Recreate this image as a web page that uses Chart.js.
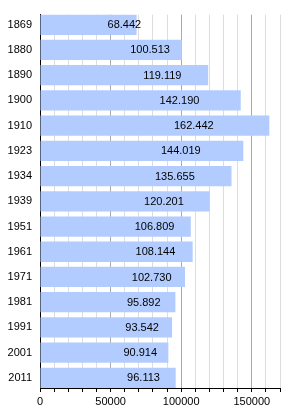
<!DOCTYPE html>
<html><head><meta charset="utf-8">
<script src="https://cdn.jsdelivr.net/npm/chart.js@4/dist/chart.umd.min.js"></script>
<style>html,body{margin:0;padding:0;background:#fff}#w{width:300px;height:413px;position:relative}</style>
</head><body><div id="w"><canvas id="c"></canvas></div>
<script>
const years = ['1869','1880','1890','1900','1910','1923','1934','1939','1951','1961','1971','1981','1991','2001','2011'];
const population = [68442,100513,119119,142190,162442,144019,135655,120201,106809,108144,102730,95892,93542,90914,96113];
const xMax = 170000;
const xStep = 10000;
const xLabelStep = 50000;

function fmt(v){return String(v).replace(/\B(?=(\d{3})+(?!\d))/g,'.');}

const barRatio = 0.804;

const labelPlugin = {
  id:'vals',
  afterDatasetsDraw(chart){
    const ctx = chart.ctx;
    const meta = chart.getDatasetMeta(0);
    ctx.save();
    ctx.font = '11px "Liberation Sans", Arial, sans-serif';
    ctx.fillStyle = '#000';
    ctx.textAlign = 'left';
    ctx.textBaseline = 'middle';
    meta.data.forEach((el,i)=>{
      const mid = (el.base + el.x)/2;
      ctx.fillText(fmt(population[i]), mid + 19, el.y + 0.5);
    });
    ctx.restore();
  }
};

Chart.defaults.font.family = '"Liberation Sans", Arial, sans-serif';
Chart.defaults.font.size = 11;
Chart.defaults.color = '#000';

new Chart(document.getElementById('c'), {
  type:'bar',
  data:{datasets:[{data:population.map((v,i)=>({x:v,y:i})), backgroundColor:'#b3ccff', borderWidth:0, barPercentage:barRatio, categoryPercentage:1}]},
  options:{
    indexAxis:'y', responsive:true, maintainAspectRatio:false, animation:false,
    layout:{padding:{top:10,right:20,left:0,bottom:0}},
    plugins:{legend:{display:false}, tooltip:{enabled:false}},
    scales:{
      x:{type:'linear',min:0,max:xMax,
        afterFit(s){s.height=25;},
        ticks:{stepSize:xStep, autoSkip:false, maxRotation:0, padding:3,
          callback:(v)=> v % xLabelStep === 0 ? String(v) : ''},
        grid:{color:(c)=> (c.tick && c.tick.value % xLabelStep === 0) ? (c.tick.value===0?'rgba(0,0,0,0)':'#aaaaaa') : '#dddddd',
          tickColor:'#000', tickLength:4, lineWidth:1},
        border:{color:'#000', width:1}
      },
      y:{type:'linear', reverse:true, offset:false, bounds:'data', min:-barRatio/2, max:years.length-1+barRatio/2,
        afterFit(s){s.width=40;},
        afterBuildTicks(s){s.ticks = years.map((y,i)=>({value:i}));},
        ticks:{padding:8, autoSkip:false, includeBounds:false, stepSize:1, callback:(v)=> years[v] !== undefined ? years[v] : ''},
        grid:{display:false, drawTicks:false, offset:false},
        border:{color:'#000', width:1}
      }
    }
  },
  plugins:[labelPlugin]
});
</script></body></html>
